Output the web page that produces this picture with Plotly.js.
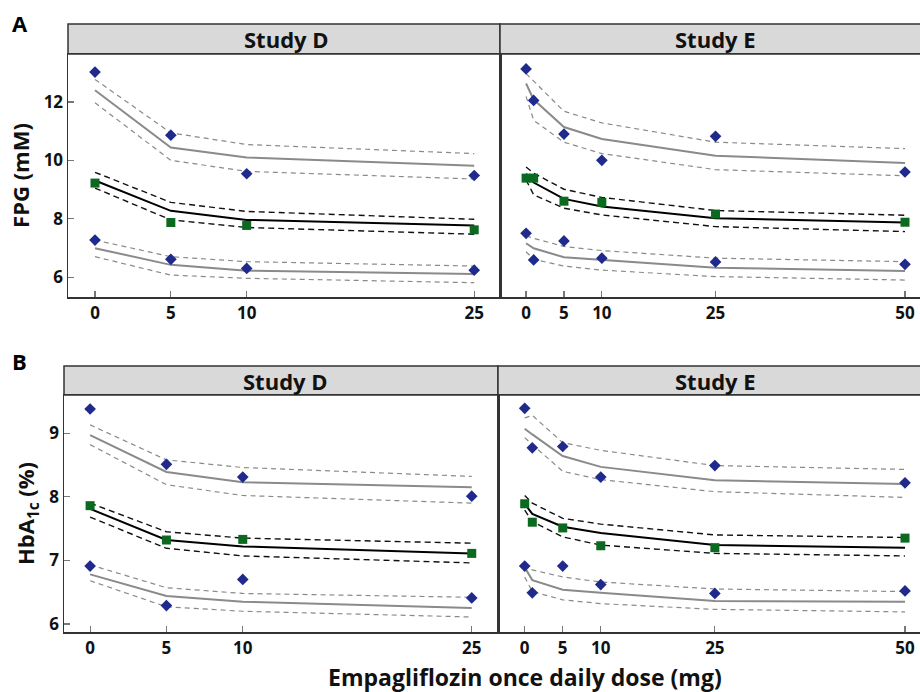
<!DOCTYPE html>
<html>
<head>
<meta charset="utf-8">
<script src="https://cdn.plot.ly/plotly-3.0.1.min.js"></script>
<style>
html,body{margin:0;padding:0;background:#fff;}
#chart{width:920px;height:692px;}
</style>
</head>
<body>
<div id="chart"></div>
<script>
// ---------- data ----------
const doseD = [0, 5, 10, 25];
const doseE = [0, 1, 5, 10, 25, 50];
const tickD = [0, 5, 10, 25];
const tickE = [0, 5, 10, 25, 50];
const ticksFPG = [6, 8, 10, 12];
const ticksHbA = [6, 7, 8, 9];
const studyLabels = ["Study D", "Study E"];

// Panel A, Study D (FPG, mM)
const fpgD_hiObs = [13.02, 10.86, 9.54, 9.48];
const fpgD_hiMed = [12.40, 10.44, 10.10, 9.81];
const fpgD_hiUp  = [12.77, 10.94, 10.54, 10.23];
const fpgD_hiLo  = [11.97, 10.00, 9.62, 9.36];
const fpgD_midObs = [9.22, 7.87, 7.77, 7.62];
const fpgD_midMed = [9.31, 8.27, 7.96, 7.77];
const fpgD_midUp  = [9.59, 8.56, 8.25, 7.98];
const fpgD_midLo  = [9.05, 7.96, 7.70, 7.47];
const fpgD_loObs = [7.27, 6.61, 6.30, 6.24];
const fpgD_loMed = [6.99, 6.42, 6.22, 6.11];
const fpgD_loUp  = [7.27, 6.70, 6.53, 6.38];
const fpgD_loLo  = [6.70, 6.07, 5.96, 5.81];

// Panel A, Study E (FPG, mM)
const fpgE_hiObs = [13.13, 12.05, 10.90, 10.00, 10.82, 9.60];
const fpgE_hiMed = [12.63, 12.08, 11.14, 10.73, 10.16, 9.91];
const fpgE_hiUp  = [12.97, 12.71, 11.68, 11.28, 10.62, 10.40];
const fpgE_hiLo  = [12.19, 11.37, 10.62, 10.23, 9.68, 9.47];
const fpgE_midObs = [9.39, 9.39, 8.60, 8.56, 8.16, 7.88];
const fpgE_midMed = [9.54, 9.24, 8.68, 8.42, 8.02, 7.87];
const fpgE_midUp  = [9.77, 9.56, 9.01, 8.73, 8.28, 8.12];
const fpgE_midLo  = [9.33, 8.82, 8.36, 8.13, 7.73, 7.56];
const fpgE_loObs = [7.50, 6.59, 7.24, 6.65, 6.52, 6.44];
const fpgE_loMed = [7.16, 6.99, 6.68, 6.59, 6.32, 6.21];
const fpgE_loUp  = [7.41, 7.33, 7.05, 6.91, 6.65, 6.53];
const fpgE_loLo  = [6.87, 6.61, 6.38, 6.24, 6.02, 5.90];

// Panel B, Study D (HbA1c, %)
const hbaD_hiObs = [9.38, 8.51, 8.31, 8.01];
const hbaD_hiMed = [8.97, 8.39, 8.23, 8.15];
const hbaD_hiUp  = [9.13, 8.58, 8.46, 8.32];
const hbaD_hiLo  = [8.82, 8.19, 8.02, 7.90];
const hbaD_midObs = [7.86, 7.32, 7.33, 7.11];
const hbaD_midMed = [7.81, 7.32, 7.22, 7.11];
const hbaD_midUp  = [7.90, 7.45, 7.35, 7.27];
const hbaD_midLo  = [7.68, 7.19, 7.07, 6.96];
const hbaD_loObs = [6.91, 6.29, 6.70, 6.41];
const hbaD_loMed = [6.78, 6.44, 6.35, 6.25];
const hbaD_loUp  = [6.93, 6.57, 6.48, 6.42];
const hbaD_loLo  = [6.68, 6.27, 6.20, 6.11];

// Panel B, Study E (HbA1c, %)
const hbaE_hiObs = [9.39, 8.77, 8.79, 8.31, 8.49, 8.22];
const hbaE_hiMed = [9.07, 8.98, 8.64, 8.47, 8.26, 8.20];
const hbaE_hiUp  = [9.24, 9.28, 8.85, 8.73, 8.49, 8.43];
const hbaE_hiLo  = [8.93, 8.82, 8.40, 8.27, 8.08, 7.99];
const hbaE_midObs = [7.89, 7.60, 7.51, 7.23, 7.20, 7.35];
const hbaE_midMed = [7.89, 7.73, 7.53, 7.43, 7.24, 7.20];
const hbaE_midUp  = [8.02, 7.90, 7.66, 7.57, 7.40, 7.36];
const hbaE_midLo  = [7.79, 7.61, 7.37, 7.24, 7.11, 7.07];
const hbaE_loObs = [6.91, 6.49, 6.91, 6.62, 6.48, 6.52];
const hbaE_loMed = [6.89, 6.69, 6.54, 6.49, 6.36, 6.35];
const hbaE_loUp  = [6.95, 6.85, 6.74, 6.66, 6.55, 6.51];
const hbaE_loLo  = [6.74, 6.51, 6.38, 6.32, 6.23, 6.19];

// ---------- styling ----------
const NAVY = "#1f2a8c";
const GREEN = "#0b6a1f";
const GRAY = "#8a8a8a";
const FONT = "'Open Sans', 'Noto Sans', sans-serif";
const B = s => "<b>" + s + "</b>";

function line(x, y, xa, ya, color, width, dash) {
  return {x: x, y: y, xaxis: xa, yaxis: ya, type: "scatter", mode: "lines",
    line: {color: color, width: width, dash: dash || "solid"}, hoverinfo: "skip", showlegend: false};
}
function pts(x, y, xa, ya, symbol, color, size) {
  return {x: x, y: y, xaxis: xa, yaxis: ya, type: "scatter", mode: "markers",
    marker: {symbol: symbol, color: color, size: size, line: {width: 0}}, showlegend: false};
}
function panel(x, xa, ya, s) {
  const out = [];
  out.push(line(x, s.hiUp, xa, ya, GRAY, 1.2, "5px,4px"));
  out.push(line(x, s.hiLo, xa, ya, GRAY, 1.2, "5px,4px"));
  out.push(line(x, s.loUp, xa, ya, GRAY, 1.2, "5px,4px"));
  out.push(line(x, s.loLo, xa, ya, GRAY, 1.2, "5px,4px"));
  out.push(line(x, s.midUp, xa, ya, "#111", 1.4, "6px,4px"));
  out.push(line(x, s.midLo, xa, ya, "#111", 1.4, "6px,4px"));
  out.push(line(x, s.hiMed, xa, ya, GRAY, 2, "solid"));
  out.push(line(x, s.loMed, xa, ya, GRAY, 2, "solid"));
  out.push(line(x, s.midMed, xa, ya, "#000", 2, "solid"));
  out.push(pts(x, s.hiObs, xa, ya, "diamond", NAVY, 9));
  out.push(pts(x, s.loObs, xa, ya, "diamond", NAVY, 9));
  out.push(pts(x, s.midObs, xa, ya, "square", GREEN, 9));
  return out;
}

const traces = [].concat(
  panel(doseD, "x", "y", {hiObs: fpgD_hiObs, hiMed: fpgD_hiMed, hiUp: fpgD_hiUp, hiLo: fpgD_hiLo,
    midObs: fpgD_midObs, midMed: fpgD_midMed, midUp: fpgD_midUp, midLo: fpgD_midLo,
    loObs: fpgD_loObs, loMed: fpgD_loMed, loUp: fpgD_loUp, loLo: fpgD_loLo}),
  panel(doseE, "x2", "y2", {hiObs: fpgE_hiObs, hiMed: fpgE_hiMed, hiUp: fpgE_hiUp, hiLo: fpgE_hiLo,
    midObs: fpgE_midObs, midMed: fpgE_midMed, midUp: fpgE_midUp, midLo: fpgE_midLo,
    loObs: fpgE_loObs, loMed: fpgE_loMed, loUp: fpgE_loUp, loLo: fpgE_loLo}),
  panel(doseD, "x3", "y3", {hiObs: hbaD_hiObs, hiMed: hbaD_hiMed, hiUp: hbaD_hiUp, hiLo: hbaD_hiLo,
    midObs: hbaD_midObs, midMed: hbaD_midMed, midUp: hbaD_midUp, midLo: hbaD_midLo,
    loObs: hbaD_loObs, loMed: hbaD_loMed, loUp: hbaD_loUp, loLo: hbaD_loLo}),
  panel(doseE, "x4", "y4", {hiObs: hbaE_hiObs, hiMed: hbaE_hiMed, hiUp: hbaE_hiUp, hiLo: hbaE_hiLo,
    midObs: hbaE_midObs, midMed: hbaE_midMed, midUp: hbaE_midUp, midLo: hbaE_midLo,
    loObs: hbaE_loObs, loMed: hbaE_loMed, loUp: hbaE_loUp, loLo: hbaE_loLo})
);

// ---------- layout ----------
const W = 920, H = 692;
const px = v => v / W;
const py = v => 1 - v / H;
const tickFont = {family: FONT, size: 17, color: "#111"};

function xax(dom, range, tv, anchor) {
  return {domain: dom, range: range, tickmode: "array", tickvals: tv, ticktext: tv.map(v => B(String(v))),
    ticks: "inside", ticklen: 6, tickwidth: 1.2, tickcolor: "#777",
    showline: true, linecolor: "#333", linewidth: 1.5, mirror: true,
    showgrid: false, zeroline: false, tickfont: tickFont, anchor: anchor, fixedrange: true};
}
function yax(dom, range, tv, anchor, labels, title) {
  const a = {domain: dom, range: range, tickmode: "array", tickvals: tv,
    ticks: labels ? "inside" : "", ticklen: 6, tickwidth: 1.2, tickcolor: "#777",
    showticklabels: labels,
    showline: true, linecolor: "#333", linewidth: 1.5, mirror: true,
    showgrid: false, zeroline: false, tickfont: tickFont, anchor: anchor, fixedrange: true};
  if (labels) a.ticktext = tv.map(v => B(String(v)));
  if (title) a.title = {text: title, font: {family: FONT, size: 22, color: "#111"}, standoff: 8};
  return a;
}

const yA = [py(297), py(54)];
const yB = [py(632), py(395)];
const stripFont = {family: FONT, size: 22, color: "#111"};

const layout = {
  width: W, height: H,
  margin: {l: 0, r: 0, t: 0, b: 0},
  paper_bgcolor: "#fff", plot_bgcolor: "#fff",
  showlegend: false,
  xaxis:  xax([px(68), px(500)], [-1.78, 26.7], tickD, "y"),
  xaxis2: xax([px(500), 1], [-3.44, 51.98], tickE, "y2"),
  xaxis3: xax([px(64), px(498)], [-1.71, 26.72], tickD, "y3"),
  xaxis4: xax([px(498), 1], [-3.51, 51.97], tickE, "y4"),
  yaxis:  yax(yA, [5.32, 13.64], ticksFPG, "x", true, B("FPG (mM)")),
  yaxis2: yax(yA, [5.32, 13.64], ticksFPG, "x2", false, null),
  yaxis3: yax(yB, [5.874, 9.60], ticksHbA, "x3", true, B("HbA<sub>1c</sub> (%)")),
  yaxis4: yax(yB, [5.874, 9.60], ticksHbA, "x4", false, null),
  shapes: [
    {type: "rect", xref: "paper", yref: "paper", x0: px(68), x1: px(500), y0: py(54), y1: py(24),
      fillcolor: "#d9d9d9", line: {color: "#333", width: 1.5}, layer: "below"},
    {type: "rect", xref: "paper", yref: "paper", x0: px(500), x1: px(921), y0: py(54), y1: py(24),
      fillcolor: "#d9d9d9", line: {color: "#333", width: 1.5}, layer: "below"},
    {type: "rect", xref: "paper", yref: "paper", x0: px(64), x1: px(498), y0: py(395), y1: py(366),
      fillcolor: "#d9d9d9", line: {color: "#333", width: 1.5}, layer: "below"},
    {type: "rect", xref: "paper", yref: "paper", x0: px(498), x1: px(921), y0: py(395), y1: py(366),
      fillcolor: "#d9d9d9", line: {color: "#333", width: 1.5}, layer: "below"}
  ],
  annotations: [
    {text: B(studyLabels[0]), xref: "paper", yref: "paper", x: px(286), y: py(39), showarrow: false,
      xanchor: "center", yanchor: "middle", font: stripFont},
    {text: B(studyLabels[1]), xref: "paper", yref: "paper", x: px(715), y: py(39), showarrow: false,
      xanchor: "center", yanchor: "middle", font: stripFont},
    {text: B(studyLabels[0]), xref: "paper", yref: "paper", x: px(285), y: py(381), showarrow: false,
      xanchor: "center", yanchor: "middle", font: stripFont},
    {text: B(studyLabels[1]), xref: "paper", yref: "paper", x: px(715), y: py(381), showarrow: false,
      xanchor: "center", yanchor: "middle", font: stripFont},
    {text: B("A"), xref: "paper", yref: "paper", x: px(10), y: py(23), showarrow: false,
      xanchor: "left", yanchor: "middle", font: {family: FONT, size: 22, color: "#000"}},
    {text: B("B"), xref: "paper", yref: "paper", x: px(10), y: py(361), showarrow: false,
      xanchor: "left", yanchor: "middle", font: {family: FONT, size: 22, color: "#000"}},
    {text: B("Empagliflozin once daily dose (mg)"), xref: "paper", yref: "paper", x: px(525), y: py(677),
      showarrow: false, xanchor: "center", yanchor: "middle",
      font: {family: FONT, size: 23, color: "#111"}}
  ]
};

Plotly.newPlot("chart", traces, layout, {displayModeBar: false, staticPlot: true});
</script>
</body>
</html>
